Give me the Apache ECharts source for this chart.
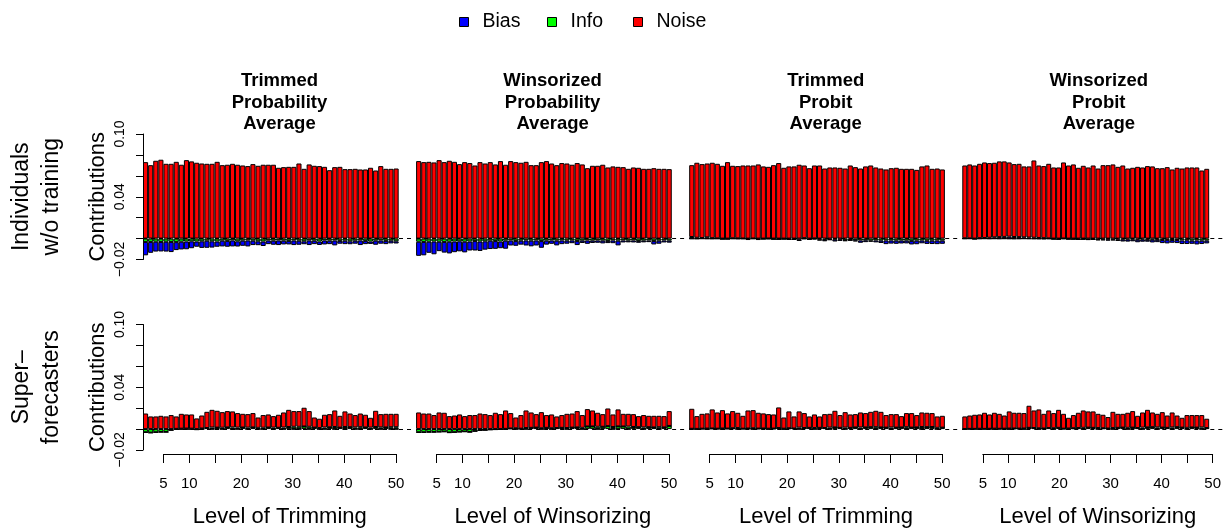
<!DOCTYPE html>
<html>
<head>
<meta charset="utf-8">
<script src="https://cdn.jsdelivr.net/npm/echarts@6/dist/echarts.min.js"></script>
<style>
  html, body { margin: 0; padding: 0; background: #fff; }
  #chart { width: 1224px; height: 529px; }
</style>
</head>
<body>
<div id="chart"></div>
<script>
// ---- Categories and labels ----
const levels = [1,2,3,4,5,6,7,8,9,10,11,12,13,14,15,16,17,18,19,20,21,22,23,24,25,
                26,27,28,29,30,31,32,33,34,35,36,37,38,39,40,41,42,43,44,45,46,47,48,49,50];
const levelTicksLabeled = [5, 10, 20, 30, 40, 50];
const yTicksLabeled = [-0.02, 0.04, 0.10];
const panelTitles = ['Trimmed\nProbability\nAverage', 'Winsorized\nProbability\nAverage',
                     'Trimmed\nProbit\nAverage', 'Winsorized\nProbit\nAverage'];
const levelTitles = ['Level of Trimming', 'Level of Winsorizing', 'Level of Trimming', 'Level of Winsorizing'];
const rowLabels = ['Individuals\nw/o training', 'Super\u2013\nforecasters'];
const componentNames = ['Bias', 'Info', 'Noise'];

// ---- Individuals without training ----
const indTrimProbNoise = [0.0731,0.0702,0.0744,0.0754,0.0715,0.0715,0.0734,0.0706,0.0750,0.0738,0.0725,0.0718,0.0715,0.0715,0.0734,0.0702,0.0706,0.0715,0.0706,0.0699,0.0693,0.0712,0.0696,0.0706,0.0706,0.0706,0.0677,0.0683,0.0686,0.0686,0.0718,0.0667,0.0709,0.0696,0.0693,0.0686,0.0654,0.0683,0.0686,0.0664,0.0664,0.0667,0.0661,0.0661,0.0677,0.0651,0.0693,0.0667,0.0667,0.0670];
const indTrimProbInfo = [-0.0032,-0.0032,-0.0030,-0.0032,-0.0030,-0.0032,-0.0034,-0.0030,-0.0028,-0.0026,-0.0028,-0.0026,-0.0020,-0.0026,-0.0028,-0.0020,-0.0022,-0.0018,-0.0026,-0.0020,-0.0018,-0.0020,-0.0026,-0.0028,-0.0018,-0.0020,-0.0018,-0.0020,-0.0022,-0.0018,-0.0020,-0.0026,-0.0018,-0.0020,-0.0028,-0.0018,-0.0020,-0.0018,-0.0022,-0.0020,-0.0026,-0.0020,-0.0018,-0.0022,-0.0028,-0.0020,-0.0018,-0.0022,-0.0020,-0.0026];
const indTrimProbBias = [-0.0128,-0.0104,-0.0094,-0.0091,-0.0094,-0.0097,-0.0076,-0.0074,-0.0074,-0.0066,-0.0050,-0.0063,-0.0068,-0.0060,-0.0050,-0.0055,-0.0056,-0.0057,-0.0050,-0.0049,-0.0057,-0.0042,-0.0037,-0.0043,-0.0035,-0.0039,-0.0044,-0.0036,-0.0034,-0.0044,-0.0039,-0.0028,-0.0044,-0.0033,-0.0033,-0.0038,-0.0033,-0.0047,-0.0027,-0.0033,-0.0028,-0.0029,-0.0044,-0.0031,-0.0023,-0.0039,-0.0031,-0.0031,-0.0026,-0.0021];

const indWinsProbNoise = [0.0741,0.0731,0.0734,0.0728,0.0750,0.0731,0.0744,0.0734,0.0712,0.0731,0.0722,0.0699,0.0731,0.0718,0.0731,0.0709,0.0741,0.0706,0.0741,0.0731,0.0725,0.0734,0.0702,0.0702,0.0731,0.0741,0.0718,0.0702,0.0722,0.0718,0.0706,0.0722,0.0709,0.0673,0.0696,0.0696,0.0706,0.0680,0.0690,0.0686,0.0683,0.0667,0.0680,0.0677,0.0667,0.0667,0.0673,0.0667,0.0667,0.0664];
const indWinsProbInfo = [-0.0030,-0.0032,-0.0030,-0.0028,-0.0030,-0.0032,-0.0030,-0.0028,-0.0026,-0.0030,-0.0028,-0.0024,-0.0028,-0.0026,-0.0020,-0.0024,-0.0028,-0.0020,-0.0018,-0.0024,-0.0020,-0.0018,-0.0020,-0.0018,-0.0024,-0.0020,-0.0018,-0.0020,-0.0018,-0.0020,-0.0018,-0.0024,-0.0020,-0.0018,-0.0020,-0.0018,-0.0020,-0.0024,-0.0018,-0.0020,-0.0018,-0.0020,-0.0018,-0.0024,-0.0020,-0.0018,-0.0024,-0.0020,-0.0018,-0.0020];
const indWinsProbBias = [-0.0135,-0.0128,-0.0106,-0.0122,-0.0090,-0.0102,-0.0112,-0.0102,-0.0096,-0.0102,-0.0086,-0.0090,-0.0090,-0.0080,-0.0080,-0.0074,-0.0064,-0.0077,-0.0048,-0.0045,-0.0038,-0.0048,-0.0054,-0.0048,-0.0064,-0.0038,-0.0032,-0.0045,-0.0035,-0.0029,-0.0026,-0.0038,-0.0022,-0.0032,-0.0022,-0.0022,-0.0026,-0.0019,-0.0026,-0.0045,-0.0019,-0.0016,-0.0019,-0.0016,-0.0016,-0.0016,-0.0032,-0.0029,-0.0019,-0.0019];

const indTrimProbitNoise = [0.0687,0.0717,0.0707,0.0706,0.0721,0.0713,0.0696,0.0731,0.0693,0.0691,0.0698,0.0699,0.0698,0.0709,0.0690,0.0685,0.0702,0.0722,0.0677,0.0690,0.0690,0.0706,0.0695,0.0673,0.0697,0.0699,0.0670,0.0680,0.0680,0.0677,0.0670,0.0699,0.0683,0.0670,0.0690,0.0699,0.0680,0.0670,0.0661,0.0673,0.0677,0.0667,0.0667,0.0667,0.0657,0.0690,0.0699,0.0667,0.0670,0.0661];
const indTrimProbitInfo = [-0.0002,-0.0003,-0.0001,-0.0002,-0.0003,-0.0002,-0.0004,-0.0003,-0.0002,-0.0004,-0.0003,-0.0005,-0.0002,-0.0004,-0.0003,-0.0005,-0.0004,-0.0006,-0.0003,-0.0005,-0.0006,-0.0008,-0.0004,-0.0006,-0.0008,-0.0010,-0.0012,-0.0008,-0.0010,-0.0008,-0.0016,-0.0014,-0.0016,-0.0018,-0.0016,-0.0020,-0.0018,-0.0020,-0.0019,-0.0018,-0.0020,-0.0019,-0.0020,-0.0022,-0.0020,-0.0019,-0.0021,-0.0020,-0.0019,-0.0020];
const indTrimProbitBias = [0.0015,0.0008,0.0005,0.0012,0.0004,0.0002,0.0000,-0.0002,0.0003,0.0002,0.0001,-0.0008,0.0001,-0.0010,0.0000,0.0001,-0.0003,0.0000,-0.0002,-0.0006,-0.0004,-0.0015,0.0004,-0.0005,0.0002,-0.0008,-0.0014,-0.0005,-0.0018,-0.0014,-0.0008,-0.0005,-0.0012,-0.0022,-0.0018,-0.0010,-0.0018,-0.0022,-0.0034,-0.0030,-0.0030,-0.0028,-0.0026,-0.0034,-0.0034,-0.0026,-0.0030,-0.0032,-0.0034,-0.0030];

const indWinsProbitNoise = [0.0696,0.0707,0.0699,0.0711,0.0723,0.0714,0.0713,0.0724,0.0722,0.0710,0.0697,0.0701,0.0678,0.0680,0.0739,0.0693,0.0689,0.0713,0.0680,0.0680,0.0727,0.0699,0.0709,0.0677,0.0696,0.0680,0.0699,0.0670,0.0702,0.0702,0.0709,0.0686,0.0699,0.0670,0.0677,0.0686,0.0680,0.0693,0.0690,0.0673,0.0673,0.0683,0.0661,0.0677,0.0670,0.0680,0.0680,0.0680,0.0651,0.0667];
const indWinsProbitInfo = [-0.0002,-0.0001,-0.0003,-0.0002,-0.0001,-0.0002,-0.0001,-0.0002,-0.0001,-0.0002,-0.0003,-0.0002,-0.0001,-0.0002,-0.0003,-0.0004,-0.0005,-0.0003,-0.0004,-0.0005,-0.0003,-0.0004,-0.0005,-0.0006,-0.0005,-0.0007,-0.0006,-0.0008,-0.0007,-0.0008,-0.0009,-0.0008,-0.0010,-0.0009,-0.0010,-0.0011,-0.0010,-0.0012,-0.0011,-0.0012,-0.0013,-0.0012,-0.0014,-0.0013,-0.0018,-0.0016,-0.0020,-0.0018,-0.0020,-0.0020];
const indWinsProbitBias = [0.0003,0.0002,0.0000,0.0004,0.0005,0.0008,0.0012,0.0014,0.0016,0.0018,0.0015,0.0014,0.0012,0.0010,0.0008,0.0006,0.0004,0.0002,0.0000,-0.0002,0.0001,-0.0001,0.0000,-0.0003,-0.0002,-0.0005,-0.0004,-0.0008,-0.0010,-0.0012,-0.0008,-0.0015,-0.0018,-0.0020,-0.0016,-0.0024,-0.0020,-0.0018,-0.0026,-0.0022,-0.0030,-0.0034,-0.0026,-0.0030,-0.0034,-0.0036,-0.0030,-0.0038,-0.0032,-0.0026];

// ---- Superforecasters ----
const supTrimProbNoise = [0.0149,0.0121,0.0121,0.0127,0.0121,0.0134,0.0119,0.0142,0.0135,0.0136,0.0102,0.0124,0.0155,0.0169,0.0161,0.0149,0.0156,0.0153,0.0139,0.0131,0.0129,0.0137,0.0099,0.0121,0.0125,0.0110,0.0124,0.0144,0.0164,0.0150,0.0150,0.0179,0.0150,0.0097,0.0089,0.0122,0.0126,0.0158,0.0113,0.0149,0.0131,0.0118,0.0131,0.0121,0.0094,0.0155,0.0127,0.0130,0.0128,0.0128];
const supTrimProbInfo = [-0.0030,-0.0034,-0.0030,-0.0028,-0.0028,-0.0010,0.0002,0.0004,0.0005,0.0004,-0.0004,0.0006,0.0010,0.0015,0.0014,0.0013,0.0016,0.0016,0.0014,0.0015,0.0014,0.0016,0.0012,0.0013,0.0015,0.0014,0.0013,0.0015,0.0020,0.0022,0.0022,0.0025,0.0022,0.0014,0.0010,0.0015,0.0017,0.0020,0.0014,0.0020,0.0018,0.0016,0.0018,0.0016,0.0014,0.0020,0.0016,0.0016,0.0018,0.0018];
const supTrimProbBias = [-0.0004,-0.0003,-0.0003,-0.0002,-0.0002,-0.0002,-0.0001,-0.0001,-0.0001,-0.0001,-0.0002,-0.0001,0.0000,-0.0001,0.0000,-0.0001,0.0000,-0.0001,-0.0001,0.0000,-0.0001,0.0000,-0.0001,-0.0001,0.0000,-0.0001,0.0000,-0.0001,0.0000,-0.0001,-0.0001,0.0000,-0.0001,0.0000,-0.0001,-0.0001,0.0000,-0.0001,0.0000,-0.0001,0.0000,-0.0001,-0.0001,0.0000,-0.0001,0.0000,-0.0001,0.0000,-0.0001,-0.0001];

const supWinsProbNoise = [0.0159,0.0149,0.0149,0.0134,0.0159,0.0156,0.0124,0.0130,0.0140,0.0124,0.0134,0.0134,0.0149,0.0143,0.0134,0.0156,0.0143,0.0176,0.0147,0.0103,0.0130,0.0168,0.0147,0.0129,0.0154,0.0122,0.0132,0.0111,0.0122,0.0136,0.0135,0.0156,0.0122,0.0166,0.0153,0.0134,0.0121,0.0169,0.0120,0.0162,0.0121,0.0122,0.0123,0.0106,0.0118,0.0109,0.0111,0.0109,0.0108,0.0142];
const supWinsProbInfo = [-0.0030,-0.0030,-0.0028,-0.0028,-0.0026,-0.0024,-0.0032,-0.0030,-0.0026,-0.0024,-0.0028,-0.0020,-0.0012,-0.0010,-0.0006,-0.0004,-0.0002,0.0002,0.0006,0.0008,0.0004,0.0010,0.0012,0.0014,0.0008,0.0012,0.0008,0.0010,0.0012,0.0010,0.0014,0.0016,0.0012,0.0025,0.0025,0.0022,0.0022,0.0028,0.0020,0.0026,0.0025,0.0024,0.0020,0.0018,0.0016,0.0018,0.0016,0.0018,0.0016,0.0030];
const supWinsProbBias = [-0.0004,-0.0004,-0.0003,-0.0003,-0.0002,-0.0002,-0.0003,-0.0002,-0.0002,-0.0001,-0.0002,-0.0001,-0.0001,-0.0001,0.0000,-0.0001,0.0000,-0.0001,0.0000,-0.0001,0.0000,-0.0001,0.0000,0.0000,-0.0001,0.0000,-0.0001,0.0000,0.0000,-0.0001,0.0000,0.0000,-0.0001,0.0000,0.0000,-0.0001,0.0000,0.0000,-0.0001,0.0000,0.0000,-0.0001,0.0000,0.0000,-0.0001,0.0000,0.0000,-0.0001,0.0000,0.0000];

const supTrimProbitNoise = [0.0191,0.0122,0.0142,0.0145,0.0182,0.0155,0.0175,0.0145,0.0164,0.0146,0.0123,0.0172,0.0173,0.0151,0.0144,0.0139,0.0135,0.0197,0.0107,0.0161,0.0115,0.0155,0.0143,0.0109,0.0130,0.0109,0.0133,0.0132,0.0159,0.0122,0.0148,0.0128,0.0127,0.0144,0.0137,0.0147,0.0157,0.0149,0.0120,0.0128,0.0129,0.0108,0.0135,0.0139,0.0118,0.0139,0.0138,0.0133,0.0109,0.0113];
const supTrimProbitInfo = [0.0003,0.0002,0.0004,0.0005,0.0006,0.0004,0.0006,0.0005,0.0008,0.0010,0.0004,0.0006,0.0008,0.0005,0.0006,0.0004,0.0005,0.0010,0.0004,0.0008,0.0006,0.0014,0.0010,0.0012,0.0010,0.0012,0.0010,0.0014,0.0016,0.0012,0.0014,0.0012,0.0016,0.0015,0.0016,0.0018,0.0018,0.0016,0.0014,0.0015,0.0014,0.0016,0.0018,0.0014,0.0016,0.0020,0.0018,0.0020,0.0012,0.0014];
const supTrimProbitBias = [0.0000,-0.0001,0.0000,-0.0001,0.0000,0.0000,-0.0001,0.0000,0.0000,-0.0001,0.0000,0.0000,-0.0001,0.0000,0.0000,-0.0001,0.0000,0.0000,-0.0001,0.0000,0.0000,-0.0001,0.0000,0.0000,-0.0001,0.0000,0.0000,-0.0001,0.0000,0.0000,-0.0001,0.0000,0.0000,-0.0001,0.0000,0.0000,-0.0001,0.0000,0.0000,-0.0001,0.0000,0.0000,-0.0001,0.0000,0.0000,-0.0001,0.0000,0.0000,-0.0001,0.0000];

const supWinsProbitNoise = [0.0120,0.0128,0.0135,0.0137,0.0154,0.0137,0.0152,0.0143,0.0126,0.0164,0.0150,0.0151,0.0147,0.0211,0.0168,0.0180,0.0140,0.0168,0.0145,0.0172,0.0142,0.0102,0.0126,0.0146,0.0166,0.0155,0.0157,0.0136,0.0129,0.0109,0.0155,0.0134,0.0132,0.0144,0.0158,0.0117,0.0145,0.0168,0.0141,0.0130,0.0148,0.0118,0.0143,0.0112,0.0094,0.0122,0.0118,0.0120,0.0118,0.0089];
const supWinsProbitInfo = [0.0001,0.0002,0.0002,0.0003,0.0002,0.0003,0.0004,0.0003,0.0004,0.0005,0.0006,0.0005,0.0006,0.0012,0.0010,0.0008,0.0006,0.0010,0.0008,0.0012,0.0004,0.0006,0.0008,0.0010,0.0012,0.0014,0.0012,0.0010,0.0008,0.0006,0.0010,0.0012,0.0014,0.0012,0.0014,0.0010,0.0014,0.0016,0.0018,0.0016,0.0014,0.0012,0.0016,0.0018,0.0014,0.0012,0.0016,0.0014,0.0016,0.0010];
const supWinsProbitBias = [-0.0001,0.0000,0.0000,-0.0001,0.0000,0.0000,-0.0001,0.0000,0.0000,-0.0001,0.0000,0.0000,-0.0001,0.0000,0.0000,-0.0001,0.0000,0.0000,-0.0001,0.0000,0.0000,-0.0001,0.0000,0.0000,-0.0001,0.0000,0.0000,-0.0001,0.0000,0.0000,-0.0001,0.0000,0.0000,-0.0001,0.0000,0.0000,-0.0001,0.0000,0.0000,-0.0001,0.0000,0.0000,-0.0001,0.0000,0.0000,-0.0001,0.0000,0.0000,-0.0001,0.0000];

// Panels in row-major order: [row][column] -> {Bias, Info, Noise}
const panels = [
  [ {Bias: indTrimProbBias,   Info: indTrimProbInfo,   Noise: indTrimProbNoise},
    {Bias: indWinsProbBias,   Info: indWinsProbInfo,   Noise: indWinsProbNoise},
    {Bias: indTrimProbitBias, Info: indTrimProbitInfo, Noise: indTrimProbitNoise},
    {Bias: indWinsProbitBias, Info: indWinsProbitInfo, Noise: indWinsProbitNoise} ],
  [ {Bias: supTrimProbBias,   Info: supTrimProbInfo,   Noise: supTrimProbNoise},
    {Bias: supWinsProbBias,   Info: supWinsProbInfo,   Noise: supWinsProbNoise},
    {Bias: supTrimProbitBias, Info: supTrimProbitInfo, Noise: supTrimProbitNoise},
    {Bias: supWinsProbitBias, Info: supWinsProbitInfo, Noise: supWinsProbitNoise} ]
];

// ---- Styling / layout ----
const FONT = "'Liberation Sans', Arial, Helvetica, sans-serif";
const COLORS = {Bias: '#0000FF', Info: '#00FF00', Noise: '#FF0000'};
const PANEL_LEFT = 143, PANEL_STEP = 273.1, PANEL_W = 271;
const ROW_TOP = [134, 324.5], ROW_H = 125.5;
const PAD_CATS = 3;              // empty room to the right of the bars in each panel
const TICK_OFFSET = 20.5, TICK_W = 232.5, TICK_AXIS_Y = 454.3;

const grids = [], xAxes = [], yAxes = [], series = [], graphics = [];
const padded = levels.map(String).concat(new Array(PAD_CATS).fill(''));

function yLabel(v) {
  for (const t of yTicksLabeled) {
    if (Math.abs(v - t) < 1e-9) return t.toFixed(2).replace('-', '\u2212');
  }
  return '';
}

let gi = 0;
for (let r = 0; r < 2; r++) {
  for (let c = 0; c < 4; c++) {
    const left = PANEL_LEFT + c * PANEL_STEP;
    grids.push({left: left, top: ROW_TOP[r], width: PANEL_W, height: ROW_H});
    xAxes.push({type: 'category', gridIndex: gi, data: padded, show: false});
    yAxes.push({
      type: 'value', gridIndex: gi, min: -0.02, max: 0.10, interval: 0.02,
      show: c === 0,
      axisLine: {show: true, lineStyle: {color: '#000', width: 1}},
      axisTick: {show: true, length: 7, lineStyle: {color: '#000', width: 1}},
      axisLabel: {show: true, rotate: 90, margin: 16, fontSize: 14, color: '#000',
                  fontFamily: FONT, formatter: yLabel},
      splitLine: {show: false},
      name: 'Contributions', nameLocation: 'middle', nameGap: 34,
      nameTextStyle: {fontSize: 22, color: '#000', fontFamily: FONT}
    });
    // dashed zero reference line, kept under the bars
    series.push({
      type: 'line', xAxisIndex: gi, yAxisIndex: gi, data: [], z: 1, silent: true,
      markLine: {silent: true, symbol: 'none', label: {show: false},
                 lineStyle: {color: '#000', width: 1, type: [4, 4]},
                 data: [{yAxis: 0}]}
    });
    const p = panels[r][c];
    for (const name of ['Info', 'Bias', 'Noise']) {
      series.push({
        name: name, type: 'bar', stack: 'panel' + gi, xAxisIndex: gi, yAxisIndex: gi,
        data: p[name], barCategoryGap: '0%', z: 2,
        itemStyle: {color: COLORS[name], borderColor: '#000', borderWidth: 1},
        emphasis: {disabled: true}
      });
    }
    gi++;
  }
}

// level axes under the bottom row
for (let c = 0; c < 4; c++) {
  const left = PANEL_LEFT + c * PANEL_STEP + TICK_OFFSET;
  grids.push({left: left, top: TICK_AXIS_Y - 10, width: TICK_W, height: 10});
  xAxes.push({
    type: 'value', gridIndex: gi, min: 5, max: 50, interval: 5, position: 'bottom',
    axisLine: {show: true, lineStyle: {color: '#000', width: 1}},
    axisTick: {show: true, length: 9, lineStyle: {color: '#000', width: 1}},
    axisLabel: {margin: 22, fontSize: 15, color: '#000', fontFamily: FONT,
                formatter: v => levelTicksLabeled.includes(v) ? String(v) : ''},
    splitLine: {show: false},
    name: levelTitles[c], nameLocation: 'middle', nameGap: 52,
    nameTextStyle: {fontSize: 22, color: '#000', fontFamily: FONT}
  });
  yAxes.push({type: 'value', gridIndex: gi, min: 0, max: 1, show: false});
  gi++;
}

// panel titles
for (let c = 0; c < 4; c++) {
  graphics.push({
    type: 'text', x: PANEL_LEFT + c * PANEL_STEP + 136.5, y: 102.7,
    style: {text: panelTitles[c], align: 'center', verticalAlign: 'middle',
            font: "bold 18.5px " + FONT, lineHeight: 21.6, fill: '#000'}
  });
}
// row labels
const rowCenters = [ROW_TOP[0] + ROW_H / 2, ROW_TOP[1] + ROW_H / 2];
for (let r = 0; r < 2; r++) {
  graphics.push({
    type: 'text', x: 37, y: rowCenters[r], rotation: Math.PI / 2,
    style: {text: rowLabels[r], align: 'center', verticalAlign: 'middle',
            font: "23px " + FONT, lineHeight: 30, fill: '#000'}
  });
}

const legendLefts = [459, 547, 633];
const legends = componentNames.map((n, i) => ({
  data: [n], left: legendLefts[i], top: 12, padding: 0, icon: 'rect', itemWidth: 9, itemHeight: 9,
  selectedMode: false,
  itemStyle: {color: COLORS[n], borderColor: '#000', borderWidth: 1},
  textStyle: {fontSize: 19.5, color: '#000', fontFamily: FONT, padding: [0, 0, 0, 9]}
}));

const chart = echarts.init(document.getElementById('chart'), null, {renderer: 'canvas'});
chart.setOption({
  animation: false,
  backgroundColor: '#fff',
  textStyle: {fontFamily: FONT},
  legend: legends,
  grid: grids,
  xAxis: xAxes,
  yAxis: yAxes,
  series: series,
  graphic: graphics
});
</script>
</body>
</html>
